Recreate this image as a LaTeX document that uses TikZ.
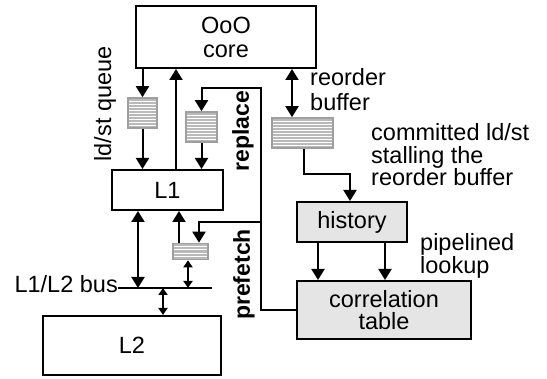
\documentclass[tikz,border=0pt]{standalone}
\usepackage{fontspec}
\setmainfont{Liberation Sans}
\usetikzlibrary{arrows.meta,calc}
\tikzset{
  box/.style={draw, line width=2pt, inner sep=0pt, align=center},
  shaded/.style={box, fill=gray!20},
  buf/.style={draw=gray!75, fill=gray!55, line width=1.6pt, inner sep=0pt,
    path picture={\foreach \i in {1,...,#1}{
      \draw[white, line width=0.9pt]
        ($(path picture bounding box.south west)!{\i/(#1+1)}!(path picture bounding box.north west)$) --
        ($(path picture bounding box.south east)!{\i/(#1+1)}!(path picture bounding box.north east)$);}}},
  conn/.style={line width=2pt},
  arr/.style={conn, -{Triangle[length=11pt,width=13pt]}},
  dbl/.style={conn, {Triangle[length=11pt,width=13pt]}-{Triangle[length=11pt,width=13pt]}},
  sdbl/.style={conn, {Triangle[length=7pt,width=9pt]}-{Triangle[length=7pt,width=9pt]}},
  lbl/.style={inner sep=0pt, align=left},
  vlbl/.style={inner sep=0pt, rotate=90, font=\fontsize{23}{23}\selectfont\bfseries},
}
\begin{document}
\begin{tikzpicture}[x=1pt,y=-1pt,font=\fontsize{23.5}{22.5}\selectfont]
\useasboundingbox (0,0) rectangle (547,379);

% boxes
\node[box, minimum width=180pt, minimum height=62pt, font=\fontsize{23.5}{24}\selectfont] (core) at (226,37) {OoO\\core};
\node[box, minimum width=111pt, minimum height=40pt] (L1) at (167.5,190) {L1};
\node[box, minimum width=178pt, minimum height=59pt] (L2) at (132,345.5) {L2};
\node[shaded, minimum width=110pt, minimum height=40pt] (hist) at (352,222) {history};
\node[shaded, minimum width=174pt, minimum height=58pt, font=\fontsize{23.5}{22.5}\selectfont] (corr) at (384,310) {correlation\\table};

% buffers
\node[buf=9, minimum width=29pt, minimum height=30pt] (qbuf) at (142.5,113) {};
\node[buf=9, minimum width=31pt, minimum height=30pt] (rbuf) at (201.5,127) {};
\node[buf=4, minimum width=35pt, minimum height=16pt] (pbuf) at (190.5,251.5) {};
\node[buf=9, minimum width=61pt, minimum height=30pt] (rob) at (302.5,133) {};

% labels
\node[lbl, rotate=90] (ldst) at (105,104) {ld/st queue};
\node[vlbl] (repl) at (243,131) {replace};
\node[vlbl] (pref) at (244,274.5) {prefetch};
\node[lbl, anchor=west, font=\fontsize{23.5}{25}\selectfont] (roblbl) at (310,90) {reorder\\buffer};
\node[lbl, anchor=west] (comm) at (371,155) {committed ld/st\\stalling the\\reorder buffer};
\node[lbl, anchor=west, font=\fontsize{23.5}{21.5}\selectfont] (pipe) at (420,256) {pipelined\\lookup};
\node[lbl, anchor=base east] (buslbl) at (118,292.5) {L1/L2 bus};

% bus
\coordinate (busL) at (118,288);
\coordinate (busR) at (212,288);
\draw[line width=1.5pt] (busL) -- (busR);

% core <-> L1 path
\draw[arr] (core.south -| qbuf) -- (qbuf.north);
\draw[arr] (qbuf.south) -- (L1.north -| qbuf);
\coordinate (up1) at ([xshift=8.5pt]L1.north);
\draw[arr] (up1) -- (core.south -| up1);
\draw[arr] (rbuf.south) -- (L1.north -| rbuf);

% replace / prefetch trunk
\coordinate (trunk) at (260.5,88);
\coordinate (pf) at (260.5,222);
\draw[arr] (corr.west) -| (trunk) -| (rbuf.north);
\coordinate (pbin) at ([xshift=8.5pt]pbuf.north);
\draw[arr] (pf) -| (pbin);
\coordinate (pbout) at ([xshift=-11.5pt]pbuf.north);
\draw[arr] (pbout) -- (L1.south -| pbout);

% L1 / bus / L2
\coordinate (l1b) at ([xshift=-29.5pt]L1.south);
\draw[dbl] (l1b) -- (busL -| l1b);
\coordinate (pbb) at ([xshift=-2.5pt]pbuf.south);
\draw[sdbl] (pbb) -- (busL -| pbb);
\coordinate (l2t) at ([xshift=31pt]L2.north);
\draw[sdbl] (busL -| l2t) -- (l2t);

% reorder buffer path
\coordinate (robt) at ([xshift=-10.5pt]rob.north);
\draw[dbl] (core.south -| robt) -- (robt);
\coordinate (robb) at ([xshift=1.5pt]rob.south);
\draw[arr] (robb) |- (350,174) -- (hist.north -| 350,0);

% history -> correlation table
\coordinate (h1) at ([xshift=-34pt]hist.south);
\coordinate (h2) at ([xshift=33pt]hist.south);
\draw[arr] (h1) -- (corr.north -| h1);
\draw[arr] (h2) -- (corr.north -| h2);
\end{tikzpicture}
\end{document}
